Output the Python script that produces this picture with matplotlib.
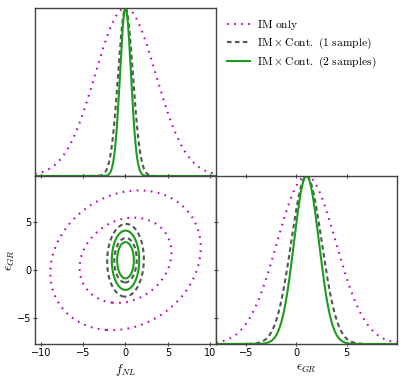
import numpy as np
import matplotlib
matplotlib.use('Agg')
from matplotlib import pyplot as plt

plt.rcParams['mathtext.fontset'] = 'cm'

# forecasts: fiducials, marginal errors and correlation for each case
labels = [r'$\mathrm{IM\ only}$',
          r'$\mathrm{IM}\times\mathrm{Cont.\ (1\ sample)}$',
          r'$\mathrm{IM}\times\mathrm{Cont.\ (2\ samples)}$']
fid_fnl = 0.0
fid_egr = 1.0
sig_fnl = [3.57, 0.87, 0.65]
sig_egr = [2.92, 1.52, 1.24]
rho = [0.18, 0.03, 0.0]

# delta chi^2 for 68% / 95% in 2D
levels = [2.30, 6.17]

fnl_lim = (-10.67, 10.67)
egr_lim_2d = (-7.7, 9.75)
egr_lim_1d = (-8.0, 10.0)
fnl_ticks = [-10, -5, 0, 5, 10]
egr_ticks = [-5, 0, 5]

colors = ['#bf00bf', '#555555', '#1a9e1a']
styles = [(0, (0.8, 2.6)), (0, (2.2, 1.6)), 'solid']
spine_col = '#444444'

fig = plt.figure(figsize=(4.07, 3.77), dpi=100)
ax_f = fig.add_axes([0.086, 0.5331, 0.4447, 0.4456])
ax_2d = fig.add_axes([0.086, 0.0875, 0.4447, 0.4456])
ax_e = fig.add_axes([0.5307, 0.0875, 0.4447, 0.4456])

xf = np.linspace(fnl_lim[0], fnl_lim[1], 800)
xe = np.linspace(egr_lim_1d[0], egr_lim_1d[1], 800)
X, Y = np.meshgrid(np.linspace(fnl_lim[0], fnl_lim[1], 500),
                   np.linspace(egr_lim_2d[0], egr_lim_2d[1], 500))

handles = []
for i in range(3):
    sf, se, r = sig_fnl[i], sig_egr[i], rho[i]
    # 1D marginals
    h, = ax_f.plot(xf, np.exp(-0.5 * ((xf - fid_fnl) / sf) ** 2),
                   color=colors[i], linestyle=styles[i], lw=1.5)
    handles.append(h)
    ax_e.plot(xe, np.exp(-0.5 * ((xe - fid_egr) / se) ** 2),
              color=colors[i], linestyle=styles[i], lw=1.5)
    # 2D contours
    cov = np.array([[sf ** 2, r * sf * se], [r * sf * se, se ** 2]])
    icov = np.linalg.inv(cov)
    dx = X - fid_fnl
    dy = Y - fid_egr
    chi2 = icov[0, 0] * dx ** 2 + 2 * icov[0, 1] * dx * dy + icov[1, 1] * dy ** 2
    ax_2d.contour(X, Y, chi2, levels=levels, colors=[colors[i]] * 2,
                  linewidths=1.5, linestyles=[styles[i]] * 2)

for ax in (ax_f, ax_2d, ax_e):
    for sp in ax.spines.values():
        sp.set_color(spine_col)
        sp.set_linewidth(1.0)
    ax.tick_params(direction='inout', length=3, width=0.8, color=spine_col,
                   labelsize=7, pad=1.5)

ax_f.set_xlim(fnl_lim)
ax_f.set_ylim(0, 1)
ax_f.set_xticks(fnl_ticks)
ax_f.set_xticklabels([])
ax_f.set_yticks([])

ax_2d.set_xlim(fnl_lim)
ax_2d.set_ylim(egr_lim_2d)
ax_2d.set_xticks(fnl_ticks)
ax_2d.set_yticks(egr_ticks)
ax_2d.tick_params(top=True)
ax_2d.tick_params(axis='y', pad=0.8)
ax_2d.set_xlabel(r'$f_{NL}$', fontsize=9, labelpad=3)
ax_2d.set_ylabel(r'$\epsilon_{GR}$', fontsize=9.5, labelpad=0)

ax_e.set_xlim(egr_lim_1d)
ax_e.set_ylim(0, 1)
ax_e.set_xticks(egr_ticks)
ax_e.set_yticks([(t - egr_lim_2d[0]) / (egr_lim_2d[1] - egr_lim_2d[0]) for t in egr_ticks])
ax_e.set_yticklabels([])
ax_e.tick_params(top=True)
ax_e.set_xlabel(r'$\epsilon_{GR}$', fontsize=9, labelpad=3)

fig.legend(handles, labels, loc='upper left', bbox_to_anchor=(0.558, 0.951),
           frameon=False, fontsize=8.3, handlelength=2.0, handletextpad=0.6,
           labelspacing=0.3, borderaxespad=0, borderpad=0)

fig.savefig('out.png', dpi=100)
